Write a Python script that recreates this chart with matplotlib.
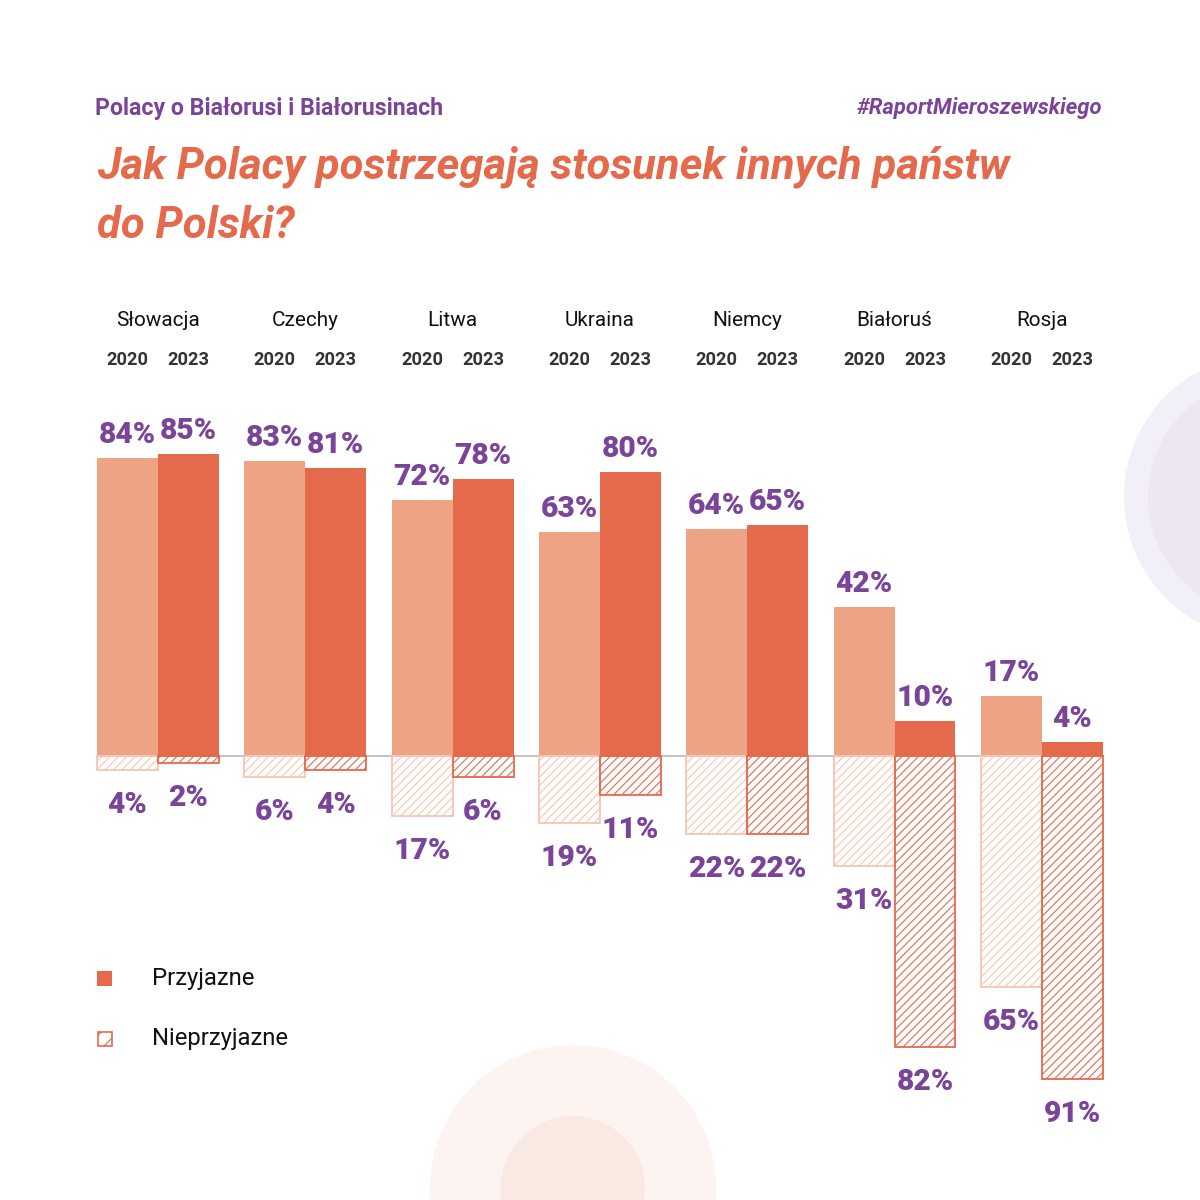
import matplotlib
matplotlib.use('Agg')
import matplotlib.pyplot as plt
from matplotlib import font_manager as fm
from matplotlib.patches import Circle, Rectangle
import numpy as np

# ---------------- data ----------------
countries = ['Słowacja', 'Czechy', 'Litwa', 'Ukraina', 'Niemcy', 'Białoruś', 'Rosja']
years = ['2020', '2023']
friendly_2020 = [84, 83, 72, 63, 64, 42, 17]
friendly_2023 = [85, 81, 78, 80, 65, 10, 4]
unfriendly_2020 = [4, 6, 17, 19, 22, 31, 65]
unfriendly_2023 = [2, 4, 6, 11, 22, 82, 91]
legend_labels = ['Przyjazne', 'Nieprzyjazne']
header_left = 'Polacy o Białorusi i Białorusinach'
header_right = '#RaportMieroszewskiego'
title_lines = ['Jak Polacy postrzegają stosunek innych państw', 'do Polski?']

# ---------------- style ----------------
available = {f.name for f in fm.fontManager.ttflist}
NARROW = 'Liberation Sans Narrow' if 'Liberation Sans Narrow' in available else 'Roboto'
NUMF = 'Roboto' if 'Roboto' in available else 'DejaVu Sans'
PURPLE = '#7a4499'
ORANGE = '#e5694b'
LIGHT = '#efa385'
LIGHT_EDGE = '#f7c5b2'
plt.rcParams['hatch.linewidth'] = 0.8

W = H = 1200
fig = plt.figure(figsize=(12, 12), dpi=100, facecolor='white')
renderer = fig.canvas.get_renderer()

def fit(t, target_px):
    for _ in range(4):
        bb = t.get_window_extent(renderer)
        if bb.width > 0:
            t.set_fontsize(t.get_fontsize() * target_px / bb.width)

# background decoration axes in pixel coordinates
bg = fig.add_axes([0, 0, 1, 1], zorder=0)
bg.set_xlim(0, W)
bg.set_ylim(H, 0)
bg.axis('off')
bg.add_patch(Circle((1267, 497), 143, color='#f2eff8', lw=0))
bg.add_patch(Circle((1267, 497), 119, color='#ece7f3', lw=0))
bg.add_patch(Circle((573, 1188), 143, color='#fdf4f1', lw=0))
bg.add_patch(Circle((573, 1188), 72, color='#fae9e3', lw=0))

# ---------------- main chart ----------------
px_per = 3.55
zero_px = 756
ymax, ymin = 125, -110
top_px = zero_px - ymax * px_per
bot_px = zero_px - ymin * px_per
left_px, right_px = 84.35, 1115.45
ax = fig.add_axes([left_px / W, 1 - bot_px / H, (right_px - left_px) / W, (bot_px - top_px) / H], zorder=1)
ax.set_xlim(-0.5, 6.5)
ax.set_ylim(ymin, ymax)
ax.axis('off')
ax.patch.set_alpha(0)

x = np.arange(len(countries))
w = 0.414
u20 = -np.array(unfriendly_2020)
u23 = -np.array(unfriendly_2023)

ax.plot([x[0] - w, x[-1] + w], [0, 0], color='#b3b3b3', lw=1.1, zorder=1)
ax.bar(x - w / 2, friendly_2020, w, color=LIGHT, lw=0, zorder=2)
ax.bar(x + w / 2, friendly_2023, w, color=ORANGE, lw=0, zorder=2)
ax.bar(x - w / 2, u20, w, facecolor='none', edgecolor=LIGHT_EDGE, hatch='////', lw=1.3, zorder=2)
ax.bar(x + w / 2, u23, w, facecolor='none', edgecolor=ORANGE, hatch='////', lw=1.3, zorder=2)

pt = 72 / 100  # points per pixel
num_kw = dict(ha='center', va='center', color=PURPLE, fontweight=900, family=NUMF,
              textcoords='offset points', annotation_clip=False)
num_texts = []
for i in range(len(countries)):
    num_texts.append(ax.annotate(f'{friendly_2020[i]}%', (x[i] - w / 2, friendly_2020[i]), xytext=(0, 23 * pt), **num_kw))
    num_texts.append(ax.annotate(f'{friendly_2023[i]}%', (x[i] + w / 2, friendly_2023[i]), xytext=(0, 23 * pt), **num_kw))
    num_texts.append(ax.annotate(f'{unfriendly_2020[i]}%', (x[i] - w / 2, u20[i]), xytext=(0, -35 * pt), **num_kw))
    num_texts.append(ax.annotate(f'{unfriendly_2023[i]}%', (x[i] + w / 2, u23[i]), xytext=(0, -35 * pt), **num_kw))
num_texts[0].set_fontsize(20)
fit(num_texts[0], 57)
for t in num_texts:
    t.set_fontsize(num_texts[0].get_fontsize())

# country and year headers
country_y = (zero_px - 320) / px_per
year_y = (zero_px - 360) / px_per
ctexts = []
ytexts = []
for i, c in enumerate(countries):
    ctexts.append(ax.text(x[i], country_y, c, ha='center', va='center', family=NARROW,
                          fontsize=16, color='#111111', clip_on=False))
    for j, yr in enumerate(years):
        ytexts.append(ax.text(x[i] + (j - 0.5) * w, year_y, yr, ha='center', va='center',
                              family=NARROW, fontweight='bold', fontsize=13,
                              color='#333333', clip_on=False))
fit(ctexts[0], 84)
for t in ctexts:
    t.set_fontsize(ctexts[0].get_fontsize())
fit(ytexts[0], 42)
for t in ytexts:
    t.set_fontsize(ytexts[0].get_fontsize())

# ---------------- header texts ----------------
t1 = fig.text(95 / W, 1 - 108 / H, header_left, ha='left', va='center', color=PURPLE,
              fontweight='bold', family=NARROW, fontsize=17)
fit(t1, 349)
t2 = fig.text(1102 / W, 1 - 108 / H, header_right, ha='right', va='center', color=PURPLE,
              fontweight='bold', style='italic', family=NARROW, fontsize=17)
fit(t2, 246)
tl1 = fig.text(97 / W, 1 - 179 / H, title_lines[0], ha='left', va='baseline', color=ORANGE,
               fontweight='bold', style='italic', family=NARROW, fontsize=34)
fit(tl1, 913)
tl2 = fig.text(97 / W, 1 - 238 / H, title_lines[1], ha='left', va='baseline', color=ORANGE,
               fontweight='bold', style='italic', family=NARROW, fontsize=tl1.get_fontsize())

# ---------------- legend ----------------
bg.add_patch(Rectangle((97, 971), 15, 15, facecolor=ORANGE, lw=0, zorder=3))
bg.add_patch(Rectangle((97.5, 1031.5), 14, 14, facecolor='white', edgecolor=ORANGE,
                       hatch='//', lw=1.2, zorder=3))
l1 = fig.text(152 / W, 1 - 978 / H, legend_labels[0], ha='left', va='center',
              family=NARROW, fontsize=17, color='#111111')
fit(l1, 103)
l2 = fig.text(152 / W, 1 - 1038 / H, legend_labels[1], ha='left', va='center',
              family=NARROW, fontsize=l1.get_fontsize(), color='#111111')

fig.savefig('out.png', dpi=100, facecolor='white')
